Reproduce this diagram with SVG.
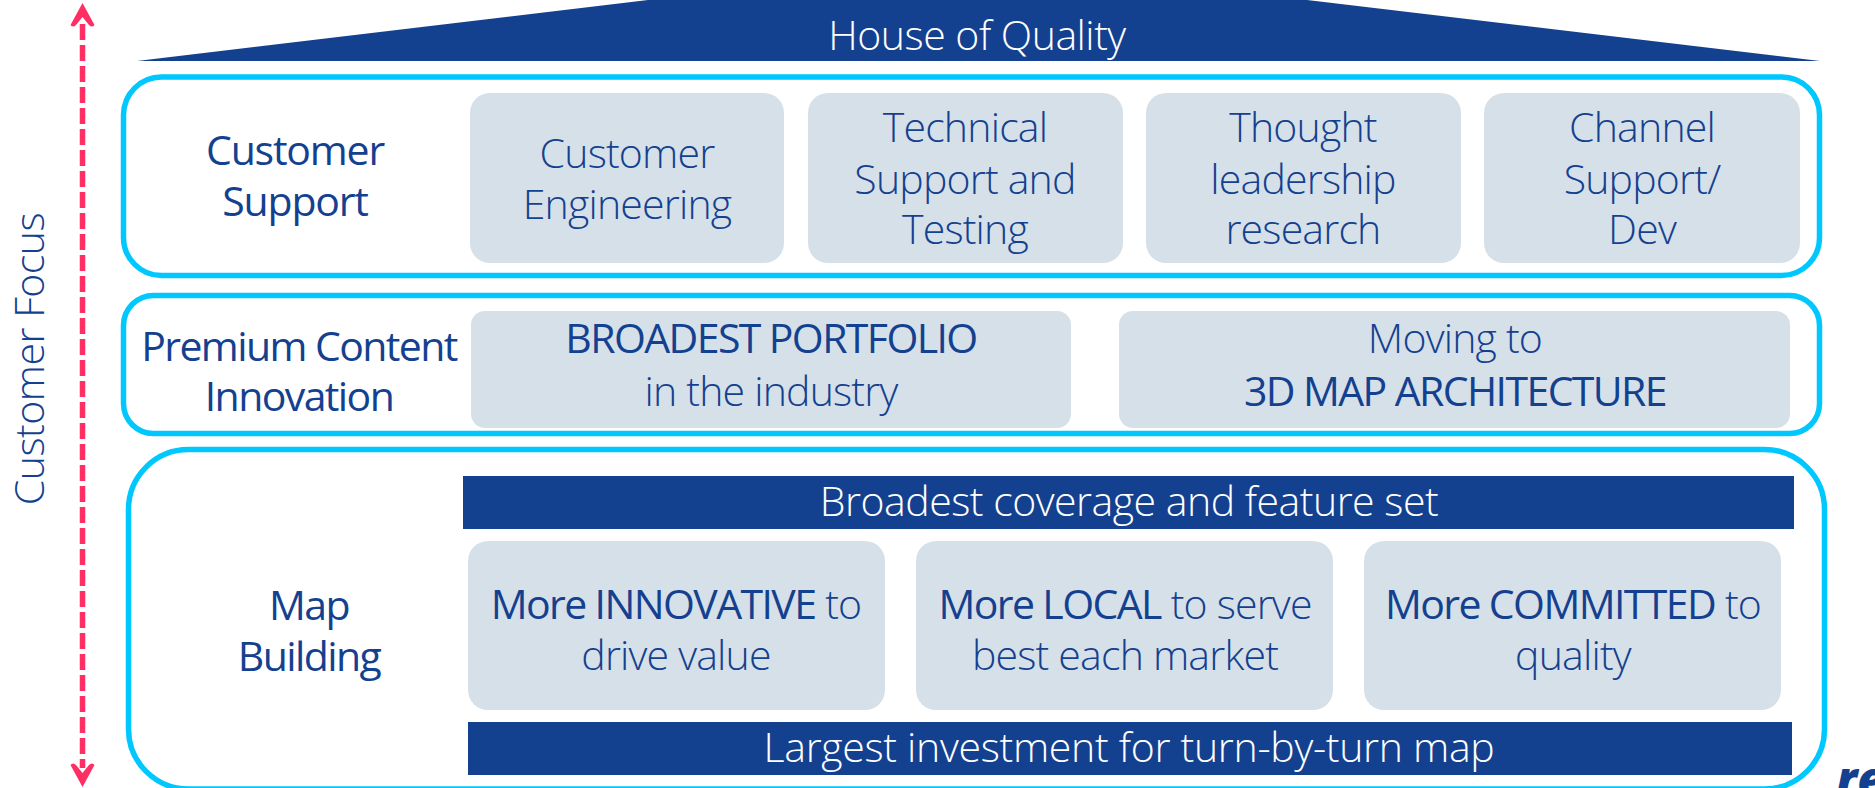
<svg xmlns="http://www.w3.org/2000/svg" width="1875" height="788" viewBox="0 0 1875 788">
<style>
text{font-family:"Open Sans","Noto Sans","Liberation Sans",sans-serif;font-size:41px;font-weight:300;fill:#14418f;text-anchor:middle;letter-spacing:-0.8px}
.b{font-weight:400;letter-spacing:-1.6px}
.b2{font-weight:400;letter-spacing:-1.2px}
.w{fill:#fff;letter-spacing:-0.5px}
.f{letter-spacing:-0.5px}
.o{fill:#fff;stroke:#00c8ff;stroke-width:5.5}
.g{fill:#d6e0e9}
.n{fill:#14418f}
.c{fill:none;stroke:#ff2e63;stroke-width:5.500;stroke-dasharray:16 5}
.h{fill:#ff2e63}
</style>
<g id="roof"><polygon class="n" points="137,61 648,0 1307,0 1820,61"/><text class="w" x="977" y="50">House of Quality</text></g>
<g id="connectors"><line class="c" x1="82.500" y1="24" x2="82.500" y2="768"/>
<path class="h" d="M82.500,3 L94.500,25 Q92,28 89,25 L82.500,17 L76,25 Q73,28 70.500,25 Z"/>
<path class="h" d="M82.500,787 L94.500,765 Q92,762 89,765 L82.500,773 L76,765 Q73,762 70.500,765 Z"/></g>
<g id="focus"><text class="f" x="0" y="0" transform="translate(44,359) rotate(-90)">Customer Focus</text></g>
<g id="customer-support"><rect class="o" x="123.500" y="77" width="1696" height="198.500" rx="38"/>
<text class="b2" x="295" y="165">Customer</text><text class="b2" x="295" y="216">Support</text></g>
<g id="customer-engineering"><rect class="g" x="470" y="93" width="314" height="170" rx="20"/><text x="627" y="168">Customer</text><text x="627" y="219">Engineering</text></g>
<g id="technical-support"><rect class="g" x="808" y="93" width="315" height="170" rx="20"/><text x="965" y="142">Technical</text><text x="965" y="194">Support and</text><text x="965" y="244">Testing</text></g>
<g id="thought-leadership"><rect class="g" x="1146" y="93" width="315" height="170" rx="20"/><text x="1303" y="142">Thought</text><text x="1303" y="194">leadership</text><text x="1303" y="244">research</text></g>
<g id="channel-support"><rect class="g" x="1484" y="93" width="316" height="170" rx="20"/><text x="1642" y="142">Channel</text><text x="1642" y="194">Support/</text><text x="1642" y="244">Dev</text></g>
<g id="premium-content"><rect class="o" x="123.500" y="295.500" width="1696" height="138" rx="30"/>
<text class="b" x="299" y="361">Premium Content</text><text class="b" x="299" y="411">Innovation</text></g>
<g id="broadest-portfolio"><rect class="g" x="471" y="311" width="600" height="117" rx="14"/><text class="b" x="771" y="353">BROADEST PORTFOLIO</text><text x="771" y="406">in the industry</text></g>
<g id="architecture"><rect class="g" x="1119" y="311" width="671" height="117" rx="14"/><text x="1455" y="353">Moving to</text><text class="b" x="1455" y="406">3D MAP ARCHITECTURE</text></g>
<g id="map-building"><rect class="o" x="128.500" y="449.500" width="1696" height="339.500" rx="60"/>
<text class="b" x="309" y="620">Map</text><text class="b" x="309" y="671">Building</text></g>
<g id="coverage"><rect class="n" x="463" y="476" width="1331" height="53"/><text class="w" x="1129" y="516">Broadest coverage and feature set</text></g>
<g id="innovative"><rect class="g" x="468" y="541" width="417" height="169" rx="20"/><text x="676" y="619"><tspan class="b">More INNOVATIVE</tspan> to</text><text x="676" y="670">drive value</text></g>
<g id="local"><rect class="g" x="916" y="541" width="417" height="169" rx="20"/><text x="1125" y="619"><tspan class="b">More LOCAL</tspan> to serve</text><text x="1125" y="670">best each market</text></g>
<g id="committed"><rect class="g" x="1364" y="541" width="417" height="169" rx="20"/><text x="1573" y="619"><tspan class="b">More COMMITTED</tspan> to</text><text x="1573" y="670">quality</text></g>
<g id="investment"><rect class="n" x="468" y="722" width="1324" height="53"/><text class="w" x="1129" y="762" style="letter-spacing:-0.3px">Largest investment for turn-by-turn map</text></g>
<g id="logo"><text x="1885" y="796" style="font-weight:800;font-style:italic;font-size:48px;text-anchor:end;letter-spacing:0">re</text></g>
</svg>
